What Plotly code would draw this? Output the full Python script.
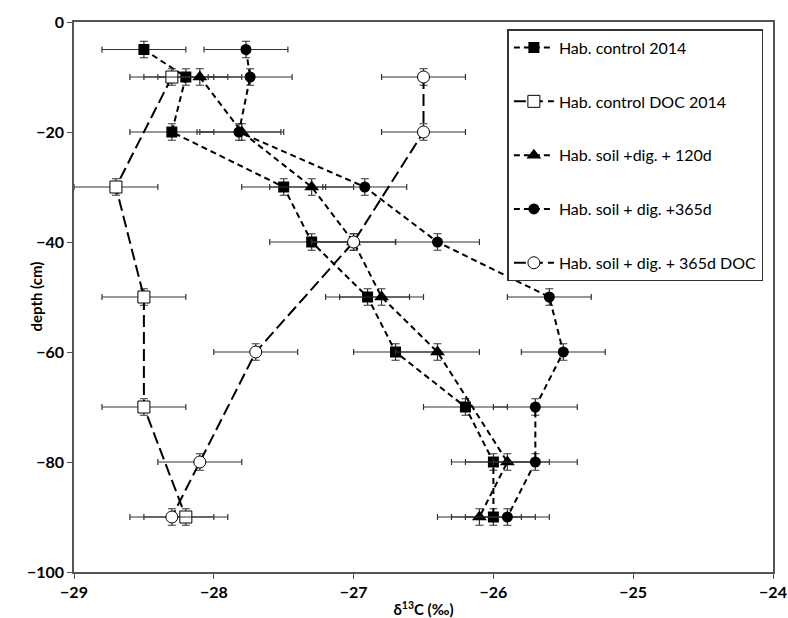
import plotly.graph_objects as go

# Data
ctrl_depth = [-5, -10, -20, -30, -40, -50, -60, -70, -80, -90]
ctrl_d13c = [-28.5, -28.2, -28.3, -27.5, -27.3, -26.9, -26.7, -26.2, -26.0, -26.0]

ctrl_doc_depth = [-10, -30, -50, -70, -90]
ctrl_doc_d13c = [-28.3, -28.7, -28.5, -28.5, -28.2]

d120_depth = [-10, -20, -30, -40, -50, -60, -80, -90]
d120_d13c = [-28.1, -27.8, -27.3, -27.0, -26.8, -26.4, -25.9, -26.1]

d365_depth = [-5, -10, -20, -30, -40, -50, -60, -70, -80, -90]
d365_d13c = [-27.77, -27.74, -27.82, -26.92, -26.4, -25.6, -25.5, -25.7, -25.7, -25.9]

d365doc_depth = [-10, -20, -40, -60, -80, -90]
d365doc_d13c = [-26.5, -26.5, -27.0, -27.7, -28.1, -28.3]

x_err = 0.3
y_err = 1.5

names = ["Hab. control 2014", "Hab. control DOC 2014", "Hab. soil +dig. + 120d",
         "Hab. soil + dig. +365d", "Hab. soil + dig. + 365d DOC"]

series = [
    (ctrl_d13c, ctrl_depth, "square", "black", "6px,4px", 11),
    (ctrl_doc_d13c, ctrl_doc_depth, "square", "white", "12px,5px", 12),
    (d120_d13c, d120_depth, "triangle-up", "black", "6px,4px", 13),
    (d365_d13c, d365_depth, "circle", "black", "6px,4px", 11),
    (d365doc_d13c, d365doc_depth, "circle", "white", "12px,5px", 12),
]

fig = go.Figure()
for i, (xs, ys, sym, fill, dash, size) in enumerate(series):
    fig.add_trace(go.Scatter(
        x=xs, y=ys, name=names[i], mode="lines+markers",
        legendgroup=f"g{i}",
        line=dict(color="black", width=2, dash=dash),
        marker=dict(symbol=sym, size=size, color=fill,
                    line=dict(color="black", width=1 if fill == "white" else 0)),
        error_x=dict(type="constant", value=x_err, color="#333333", thickness=1.2, width=3),
        error_y=dict(type="constant", value=y_err, color="#333333", thickness=1.2, width=4),
    ))

tickfont = dict(size=16, family="Lato, sans-serif", weight="bold")

fig.update_layout(
    width=788, height=618,
    margin=dict(l=74, r=15, t=22, b=46),
    paper_bgcolor="white", plot_bgcolor="white",
    font=dict(family="Lato, Open Sans, sans-serif", color="black"),
    showlegend=True,
    legend=dict(x=0.62, y=0.987, xanchor="left", yanchor="top",
                bordercolor="#333333", borderwidth=1.5, bgcolor="white",
                font=dict(size=16, family="Lato, sans-serif"),
                tracegroupgap=30, itemwidth=40),
    xaxis=dict(range=[-29, -24], dtick=1, tick0=-29, showgrid=False, zeroline=False,
               showline=True, linecolor="#555555", linewidth=1.5, mirror=True,
               ticks="outside", ticklen=5, tickcolor="#555555",
               ticklabeloverflow="allow", automargin=False,
               tickfont=tickfont,
               title=dict(text="δ<sup>13</sup>C (‰)", standoff=6,
                          font=dict(size=15, family="Lato, sans-serif", weight="bold"))),
    yaxis=dict(range=[-100, 0], dtick=20, showgrid=False, zeroline=False,
               showline=True, linecolor="#555555", linewidth=1.5, mirror=True,
               ticks="outside", ticklen=5, tickcolor="#555555",
               ticklabeloverflow="allow", automargin=False,
               tickfont=tickfont),
    annotations=[dict(text="depth (cm)", textangle=-90, xref="paper", yref="paper",
                      x=-0.055, y=0.5, xanchor="center", yanchor="middle", showarrow=False,
                      font=dict(size=15, family="Lato, sans-serif", weight="bold"))],
)

fig.write_html("out.html")
